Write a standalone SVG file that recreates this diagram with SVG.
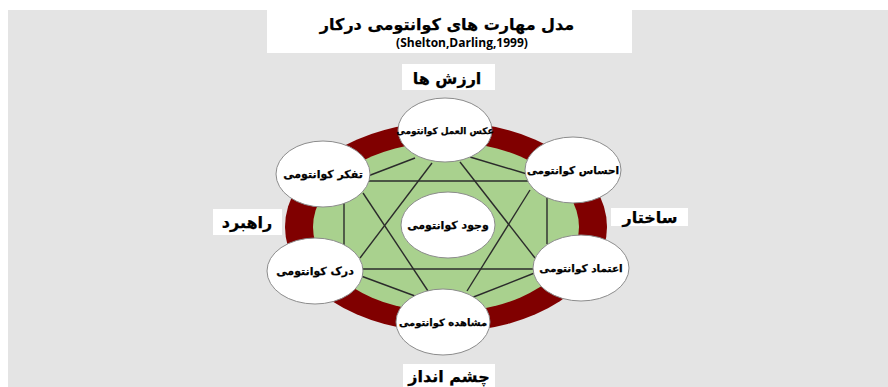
<svg xmlns="http://www.w3.org/2000/svg" width="888" height="387" viewBox="0 0 888 387">
<style>
.bg{fill:#e4e4e4}
.lbl{fill:#ffffff}
.fa{font-family:"DejaVu Sans","Noto Sans",sans-serif;font-weight:bold;fill:#000;text-anchor:middle;stroke:#000;stroke-width:0.25}
.en{font-family:"Open Sans","Liberation Sans",Arial,sans-serif;font-weight:bold;fill:#000;text-anchor:middle}
.node{fill:#ffffff;stroke:#8c8c8c;stroke-width:1}
.conn line{stroke:#2b2b2b;stroke-width:1.4}
</style>
<rect x="0" y="0" width="888" height="387" fill="#ffffff"/>
<rect class="bg" x="8" y="10" width="880" height="377"/>
<g id="title">
<rect class="lbl" x="267" y="10" width="365" height="43"/>
<text class="fa" x="447" y="30" font-size="16" direction="rtl">مدل مهارت های کوانتومی درکار</text>
<text class="en" x="462" y="47" font-size="12">(Shelton,Darling,1999)</text>
</g>
<g id="ring">
<ellipse cx="446" cy="227" rx="161" ry="105" fill="#800000"/>
<ellipse cx="446" cy="227" rx="133" ry="85" fill="#a9d18e"/>
</g>
<g id="connectors" class="conn">
<line x1="432" y1="163" x2="360" y2="258"/>
<line x1="460" y1="162" x2="535" y2="258"/>
<line x1="360" y1="269" x2="536" y2="269"/>
<line x1="368" y1="181" x2="528" y2="181"/>
<line x1="363" y1="193" x2="428" y2="291"/>
<line x1="530" y1="190" x2="467" y2="291"/>
<line x1="415" y1="158" x2="368" y2="176"/>
<line x1="470" y1="157" x2="527" y2="174"/>
<line x1="344" y1="193" x2="344" y2="245"/>
<line x1="547" y1="198" x2="547" y2="244"/>
<line x1="361" y1="276" x2="415" y2="296"/>
<line x1="537" y1="272" x2="471" y2="298"/>
</g>
<g id="n-top">
<ellipse class="node" cx="445" cy="130" rx="47" ry="32"/>
<text class="fa" x="445" y="134" font-size="9" direction="rtl">عکس العمل کوانتومی</text>
</g>
<g id="n-upleft">
<ellipse class="node" cx="323" cy="174" rx="47" ry="33"/>
<text class="fa" x="323" y="178" font-size="11" direction="rtl">تفکر کوانتومی</text>
</g>
<g id="n-upright">
<ellipse class="node" cx="573" cy="170" rx="48" ry="33"/>
<text class="fa" x="573" y="174" font-size="10.5" direction="rtl">احساس کوانتومی</text>
</g>
<g id="n-center">
<ellipse class="node" cx="448" cy="225" rx="47" ry="33"/>
<text class="fa" x="448" y="229" font-size="11" direction="rtl">وجود کوانتومی</text>
</g>
<g id="n-lowleft">
<ellipse class="node" cx="315" cy="271" rx="48" ry="33"/>
<text class="fa" x="315" y="275" font-size="11" direction="rtl">درک کوانتومی</text>
</g>
<g id="n-lowright">
<ellipse class="node" cx="581" cy="268" rx="48" ry="33"/>
<text class="fa" x="581" y="272" font-size="10.5" direction="rtl">اعتماد کوانتومی</text>
</g>
<g id="n-bottom">
<ellipse class="node" cx="443" cy="322" rx="47" ry="33"/>
<text class="fa" x="443" y="326" font-size="10" direction="rtl">مشاهده کوانتومی</text>
</g>
<g id="l-values">
<rect class="lbl" x="402" y="64" width="93" height="26"/>
<text class="fa" x="447" y="84" font-size="16" direction="rtl">ارزش ها</text>
</g>
<g id="l-strategy">
<rect class="lbl" x="213" y="209" width="69" height="26"/>
<text class="fa" x="247" y="228" font-size="16" direction="rtl">راهبرد</text>
</g>
<g id="l-structure">
<rect class="lbl" x="611" y="208" width="77" height="18"/>
<text class="fa" x="650" y="223" font-size="16" direction="rtl">ساختار</text>
</g>
<g id="l-vision">
<rect class="lbl" x="403" y="364" width="92" height="23"/>
<text class="fa" x="449" y="382" font-size="16" direction="rtl">چشم انداز</text>
</g>
</svg>
